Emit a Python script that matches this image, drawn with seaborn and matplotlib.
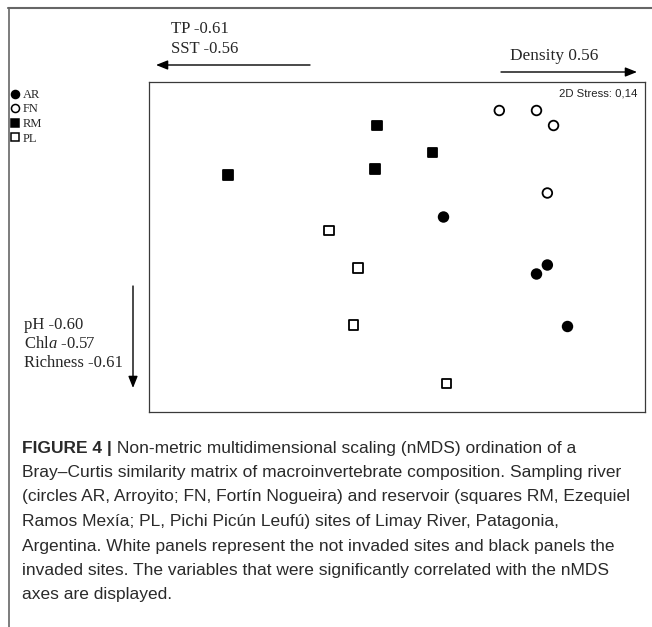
import matplotlib
matplotlib.use("Agg")
import matplotlib.pyplot as plt
from matplotlib.lines import Line2D
from matplotlib.patches import FancyArrowPatch
import seaborn as sns
import pandas as pd

# ---- data (nMDS scores) ----
sites = ["AR", "FN", "RM", "PL"]
ar_x = [0.30, 0.97, 0.90, 1.10]
ar_y = [0.20, -0.12, -0.18, -0.53]
fn_x = [0.66, 0.90, 1.01, 0.97]
fn_y = [0.91, 0.91, 0.81, 0.36]
rm_x = [-0.13, 0.23, -0.14, -1.09]
rm_y = [0.81, 0.63, 0.52, 0.48]
pl_x = [-0.44, -0.25, -0.28, 0.32]
pl_y = [0.11, -0.14, -0.52, -0.91]
stress_label = "2D Stress: 0,14"
arrow_left_labels = ["TP -0.61", "SST -0.56"]
arrow_right_label = "Density 0.56"
arrow_down_labels = ["pH -0.60", r"Chl$\mathit{a}$ -0.57", "Richness -0.61"]
caption_bold = "FIGURE 4 |"
caption_lines = [
    " Non-metric multidimensional scaling (nMDS) ordination of a",
    "Bray\u2013Curtis similarity matrix of macroinvertebrate composition. Sampling river",
    "(circles AR, Arroyito; FN, Fort\u00edn Nogueira) and reservoir (squares RM, Ezequiel",
    "Ramos Mex\u00eda; PL, Pichi Pic\u00fan Leuf\u00fa) sites of Limay River, Patagonia,",
    "Argentina. White panels represent the not invaded sites and black panels the",
    "invaded sites. The variables that were significantly correlated with the nMDS",
    "axes are displayed.",
]

df = pd.DataFrame({
    "x": ar_x + fn_x + rm_x + pl_x,
    "y": ar_y + fn_y + rm_y + pl_y,
    "site": ["AR"] * len(ar_x) + ["FN"] * len(fn_x) + ["RM"] * len(rm_x) + ["PL"] * len(pl_x),
})

sns.set_theme(style="white")
plt.rcParams["font.family"] = ["Liberation Serif", "DejaVu Serif"]
plt.rcParams["mathtext.fontset"] = "custom"
plt.rcParams["mathtext.rm"] = "Liberation Serif"
plt.rcParams["mathtext.it"] = "Liberation Serif:italic"

W, H = 652, 627
fig = plt.figure(figsize=(W / 100, H / 100), dpi=100)
fig.patch.set_facecolor("white")


def fx(px):
    return px / W


def fy(py):
    return 1 - py / H


# plot box: x 149..645, y 82..412 (pixels)
ax = fig.add_axes([fx(149), fy(412), fx(645) - fx(149), fy(82) - fy(412)])
face = {"AR": "black", "FN": "white", "RM": "black", "PL": "white"}
marks = {"AR": "o", "FN": "o", "RM": "s", "PL": "s"}
sns.scatterplot(data=df, x="x", y="y", hue="site", style="site",
                palette=face, markers=marks, hue_order=sites, style_order=sites,
                s=48, edgecolor="black", linewidth=1.3, legend=False, ax=ax, zorder=3)
ax.set_xlim(-1.6, 1.6)
ax.set_ylim(-1.1, 1.1)
ax.set_xticks([])
ax.set_yticks([])
ax.set_xlabel("")
ax.set_ylabel("")
for sp in ax.spines.values():
    sp.set_color("#3a3a3a")
    sp.set_linewidth(0.9)
ax.text(0.985, 0.965, stress_label, transform=ax.transAxes, ha="right", va="center",
        fontsize=8.2, family="Liberation Sans", color="#222222")

# ---- frame lines of the page ----
fig.add_artist(Line2D([fx(8), fx(652)], [fy(8), fy(8)], transform=fig.transFigure,
                      color="#666666", lw=1.5))
fig.add_artist(Line2D([fx(9), fx(9)], [fy(8), fy(627)], transform=fig.transFigure,
                      color="#666666", lw=1.2))

# ---- vector arrows ----
def arrow(x0, y0, x1, y1):
    fig.add_artist(FancyArrowPatch((fx(x0), fy(y0)), (fx(x1), fy(y1)),
                                   transform=fig.transFigure,
                                   arrowstyle="-|>,head_length=0.7,head_width=0.28",
                                   mutation_scale=10, color="black", lw=1.0,
                                   shrinkA=0, shrinkB=0))

arrow(310, 65, 156, 65)
arrow(501, 72, 637, 72)
arrow(133, 286, 133, 388)

tsize = 12
fig.text(fx(171), fy(29), arrow_left_labels[0], fontsize=tsize, va="center", ha="left")
fig.text(fx(171), fy(49), arrow_left_labels[1], fontsize=tsize, va="center", ha="left")
fig.text(fx(510), fy(56), arrow_right_label, fontsize=12.4, va="center", ha="left")
for lab, yy in zip(arrow_down_labels, [325, 344, 363]):
    fig.text(fx(24), fy(yy), lab, fontsize=tsize, va="center", ha="left")

# ---- legend ----
handles = [Line2D([], [], linestyle="", marker=marks[s], markerfacecolor=face[s],
                  markeredgecolor="black", markeredgewidth=1.1, markersize=5.8)
           for s in sites]
fig.legend(handles, sites, loc="upper left", bbox_to_anchor=(fx(10), fy(89)),
           bbox_transform=fig.transFigure, frameon=False,
           prop={"family": "Liberation Serif", "size": 9},
           handlelength=0.8, handletextpad=0.2, labelspacing=0.2,
           borderpad=0, borderaxespad=0)

# ---- caption ----
csize = 12.5
ccol = "#2a2a2a"
cap_y = [448, 472.5, 497, 521.5, 546, 570.5, 595]
tb = fig.text(fx(22), fy(cap_y[0]), caption_bold, fontsize=csize, weight="bold",
              family="Liberation Sans", color=ccol, va="center", ha="left")
fig.canvas.draw()
bb = tb.get_window_extent()
fig.text(bb.x1 / W, fy(cap_y[0]), caption_lines[0], fontsize=csize,
         family="Liberation Sans", color=ccol, va="center", ha="left")
for line, yy in zip(caption_lines[1:], cap_y[1:]):
    fig.text(fx(22), fy(yy), line, fontsize=csize, family="Liberation Sans",
             color=ccol, va="center", ha="left")

fig.savefig("out.png", dpi=100)
